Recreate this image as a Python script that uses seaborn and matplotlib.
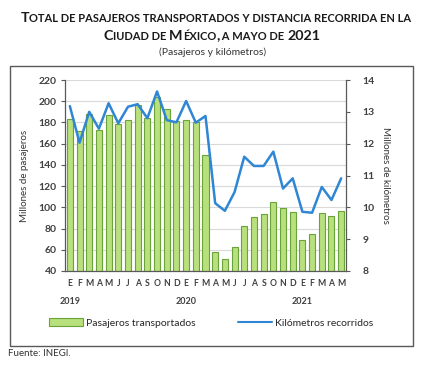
import re
import pandas as pd
import seaborn as sns
import matplotlib.pyplot as plt
from matplotlib.patches import Rectangle
from matplotlib.lines import Line2D

months = ['E', 'F', 'M', 'A', 'M', 'J', 'J', 'A', 'S', 'O', 'N', 'D',
          'E', 'F', 'M', 'A', 'M', 'J', 'J', 'A', 'S', 'O', 'N', 'D',
          'E', 'F', 'M', 'A', 'M']
years = ['2019', '2020', '2021']
pasajeros = [183, 172, 188, 173, 187, 179, 182, 196, 184, 204, 193, 181,
             182, 180, 149, 58, 51, 63, 82, 91, 94, 105, 99, 96,
             69, 75, 95, 92, 97]
kilometros = [13.18, 12.03, 13.0, 12.47, 13.27, 12.64, 13.16, 13.24, 12.80, 13.64, 12.74, 12.67,
              13.34, 12.66, 12.87, 10.13, 9.89, 10.48, 11.59, 11.30, 11.30, 11.75, 10.59, 10.91,
              9.86, 9.83, 10.64, 10.23, 10.91]

df = pd.DataFrame({'idx': range(len(months)), 'pasajeros': pasajeros, 'km': kilometros})

sns.set_style('white')
plt.rcParams['font.family'] = ['Lato', 'DejaVu Sans']

fig = plt.figure(figsize=(4.22, 3.69), dpi=100)
ax = fig.add_axes([65 / 422, 1 - 271 / 369, 281 / 422, 191 / 369])

bar_green = '#b8e07c'
edge_green = '#6aa33a'
line_blue = '#2f86d4'
dark = '#404040'

sns.barplot(data=df, x='idx', y='pasajeros', color=bar_green, edgecolor=edge_green,
            linewidth=0.8, width=0.62, saturation=1, ax=ax, zorder=2)
ax.set_ylim(40, 220)
ax.set_yticks(range(40, 221, 20))
ax.set_xlim(-0.5, len(months) - 0.5)
ax.grid(axis='y', color='#d9d9d9', linewidth=0.8, zorder=0)
ax.set_axisbelow(True)
ax.set_xlabel('')
ax.set_ylabel('Millones de pasajeros', fontsize=7, labelpad=7, color='#333333')
ax.set_xticks(range(len(months)))
ax.set_xticklabels(months, fontsize=6.2, color=dark, fontweight='bold')
ax.set_xticks([11.5, 23.5], minor=True)
ax.tick_params(axis='x', which='major', length=0, pad=6)
ax.tick_params(axis='x', which='minor', length=3, color='#595959', width=0.8)
ax.tick_params(axis='y', labelsize=7.5, length=3, color='#595959', left=True, pad=3,
               labelcolor=dark)
for lab in ax.get_yticklabels():
    lab.set_fontweight('bold')
for s in ['top', 'right']:
    ax.spines[s].set_visible(False)
for s in ['left', 'bottom']:
    ax.spines[s].set_color('#595959')
    ax.spines[s].set_linewidth(0.9)

for i, yr in enumerate(years):
    ax.text(i * 12, -0.135, yr, transform=ax.get_xaxis_transform(), ha='center', va='top',
            fontsize=6.5, color=dark, fontweight='bold')

ax2 = ax.twinx()
sns.lineplot(data=df, x='idx', y='km', color=line_blue, linewidth=1.8, ax=ax2, zorder=3)
ax2.set_ylim(8, 14)
ax2.set_yticks(range(8, 15))
ax2.set_ylabel('Millones de kilómetros', fontsize=7, rotation=270, labelpad=11, color='#333333')
ax2.tick_params(axis='y', labelsize=7.5, length=3, color='#595959', right=True, pad=9,
                labelcolor=dark)
for lab in ax2.get_yticklabels():
    lab.set_fontweight('bold')
for s in ['top', 'left', 'bottom']:
    ax2.spines[s].set_visible(False)
ax2.spines['right'].set_color('#595959')
ax2.spines['right'].set_linewidth(0.9)
ax2.set_xlim(-0.5, len(months) - 0.5)

handles = [Rectangle((0, 0), 1, 1, facecolor=bar_green, edgecolor=edge_green, linewidth=0.8),
           Line2D([0], [0], color=line_blue, linewidth=1.5)]
fig.legend(handles, ['Pasajeros transportados', 'Kilómetros recorridos'],
           loc='center', bbox_to_anchor=(211 / 422, 1 - 323 / 369), ncol=2, frameon=False,
           fontsize=7.5, handlelength=3.3, handleheight=0.7, columnspacing=4, handletextpad=0.3,
           labelcolor='#262626')

fig.patches.append(Rectangle((10 / 422, 1 - 346 / 369), 403 / 422, 280 / 369,
                             transform=fig.transFigure, fill=False, edgecolor='#595959', linewidth=1))


def small_caps(text, xc, yc, big=10.3, small=8.0):
    # lowercase letters drawn as smaller capitals, everything else full size
    runs = [(m.group(0), m.group(0).islower() or m.group(0).isspace())
            for m in re.finditer(r'[a-záéíóú ]+|[^a-záéíóú ]+', text)]
    r = fig.canvas.get_renderer()

    def width(s, size):
        t = fig.text(0, 0, '|' + s + '|', fontsize=size, fontweight='bold')
        t0 = fig.text(0, 0, '||', fontsize=size, fontweight='bold')
        w = t.get_window_extent(r).width - t0.get_window_extent(r).width
        t.remove()
        t0.remove()
        return w

    pieces = [(s.upper(), small if sm else big) for s, sm in runs]
    widths = [width(s, sz) for s, sz in pieces]
    x = xc - sum(widths) / 2
    for (s, sz), w in zip(pieces, widths):
        fig.text(x / 422, 1 - yc / 369, s, fontsize=sz, fontweight='bold', color='#1a1a1a',
                 ha='left', va='baseline')
        x += w


small_caps('Total de pasajeros transportados y distancia recorrida en la', 216, 22)
small_caps('Ciudad de México, a mayo de 2021', 212, 40)
fig.text(213 / 422, 1 - 52 / 369, '(Pasajeros y kilómetros)',
         ha='center', va='center', fontsize=7.5, color='#333333')
fig.text(8 / 422, 1 - 354 / 369, 'Fuente: INEGI.', ha='left', va='center', fontsize=7, color='#333333')

fig.savefig('out.png', dpi=100)
